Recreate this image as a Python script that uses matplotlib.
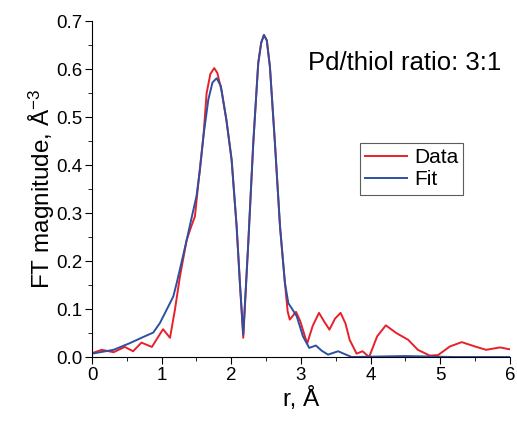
import matplotlib.pyplot as plt
from matplotlib.ticker import MultipleLocator, FormatStrFormatter

plt.rcParams['font.family'] = ['Liberation Sans', 'DejaVu Sans']
plt.rcParams['mathtext.fontset'] = 'custom'
plt.rcParams['mathtext.rm'] = 'Liberation Sans'
plt.rcParams['mathtext.it'] = 'Liberation Sans'

# values
data_r = [0.0, 0.14, 0.31, 0.47, 0.59, 0.71, 0.86, 1.02, 1.12, 1.19, 1.263,
          1.36, 1.42, 1.478, 1.54, 1.60, 1.646, 1.70, 1.755, 1.80, 1.86,
          1.93, 2.005, 2.077, 2.124, 2.172, 2.244, 2.316, 2.387, 2.43, 2.469,
          2.51, 2.555, 2.627, 2.70, 2.77, 2.81, 2.84, 2.93, 2.99, 3.09, 3.17,
          3.26, 3.33, 3.41, 3.49, 3.57, 3.64, 3.70, 3.80, 3.885, 3.98, 4.095,
          4.22, 4.37, 4.54, 4.68, 4.85, 4.97, 5.14, 5.31, 5.50, 5.66, 5.86,
          6.0]
data_ft = [0.008, 0.015, 0.010, 0.021, 0.012, 0.030, 0.021, 0.058, 0.040,
           0.098, 0.168, 0.244, 0.270, 0.293, 0.380, 0.460, 0.550, 0.590,
           0.602, 0.592, 0.555, 0.494, 0.411, 0.272, 0.154, 0.040, 0.237,
           0.446, 0.612, 0.655, 0.671, 0.660, 0.605, 0.446, 0.272, 0.155,
           0.095, 0.078, 0.094, 0.075, 0.028, 0.065, 0.092, 0.075, 0.057,
           0.080, 0.092, 0.070, 0.036, 0.007, 0.012, 0.000, 0.043, 0.066,
           0.050, 0.036, 0.015, 0.003, 0.004, 0.022, 0.031, 0.022, 0.015,
           0.020, 0.016]

fit_r = [0.0, 0.31, 0.545, 0.74, 0.88, 0.976, 1.07, 1.167, 1.216, 1.29,
         1.36, 1.43, 1.50, 1.55, 1.60, 1.67, 1.73, 1.79, 1.85, 1.93, 2.005,
         2.077, 2.124, 2.172, 2.244, 2.316, 2.387, 2.43, 2.469, 2.51, 2.555,
         2.627, 2.70, 2.77, 2.82, 2.866, 2.94, 3.03, 3.12, 3.215, 3.30, 3.39,
         3.535, 3.63, 3.73, 4.5, 5.2, 6.0]
fit_ft = [0.007, 0.015, 0.029, 0.042, 0.051, 0.071, 0.098, 0.126, 0.154,
          0.200, 0.244, 0.290, 0.335, 0.390, 0.460, 0.536, 0.572, 0.581,
          0.565, 0.494, 0.411, 0.272, 0.154, 0.047, 0.237, 0.446, 0.612,
          0.655, 0.671, 0.660, 0.605, 0.446, 0.272, 0.155, 0.112, 0.102,
          0.085, 0.043, 0.019, 0.024, 0.013, 0.005, 0.012, 0.006, 0.000,
          0.002, 0.000, 0.000]

fig = plt.figure(figsize=(5.17, 4.22), dpi=100)
ax = fig.add_axes([0.178, 0.154, 0.808, 0.796])

ax.plot(data_r, data_ft, color='#e8202a', lw=1.4, label='Data')
ax.plot(fit_r, fit_ft, color='#2f4f9f', lw=1.4, label='Fit')

ax.set_xlim(0, 6)
ax.set_ylim(0, 0.7)
ax.spines['top'].set_visible(False)
ax.spines['right'].set_visible(False)
ax.xaxis.set_major_locator(MultipleLocator(1))
ax.xaxis.set_minor_locator(MultipleLocator(0.5))
ax.yaxis.set_major_locator(MultipleLocator(0.1))
ax.yaxis.set_minor_locator(MultipleLocator(0.05))
ax.yaxis.set_major_formatter(FormatStrFormatter('%.1f'))
ax.tick_params(which='major', direction='out', length=5, labelsize=13.5, pad=2)
ax.tick_params(which='minor', direction='out', length=3)

ax.set_xlabel('r, Å', fontsize=17.5, labelpad=2)
ax.set_ylabel('FT magnitude, Å$^{-3}$', fontsize=17.5, labelpad=-1)

ax.text(0.98, 0.875, 'Pd/thiol ratio: 3:1', transform=ax.transAxes,
        ha='right', va='center', fontsize=18.5)

leg = ax.legend(loc='upper left', bbox_to_anchor=(0.641, 0.637), fontsize=15,
                frameon=True, fancybox=False, edgecolor='#333333',
                handlelength=2.0, borderpad=0.25, labelspacing=0.15,
                handletextpad=0.35, borderaxespad=0)
leg.get_frame().set_linewidth(0.8)

fig.savefig('out.png', dpi=100)
